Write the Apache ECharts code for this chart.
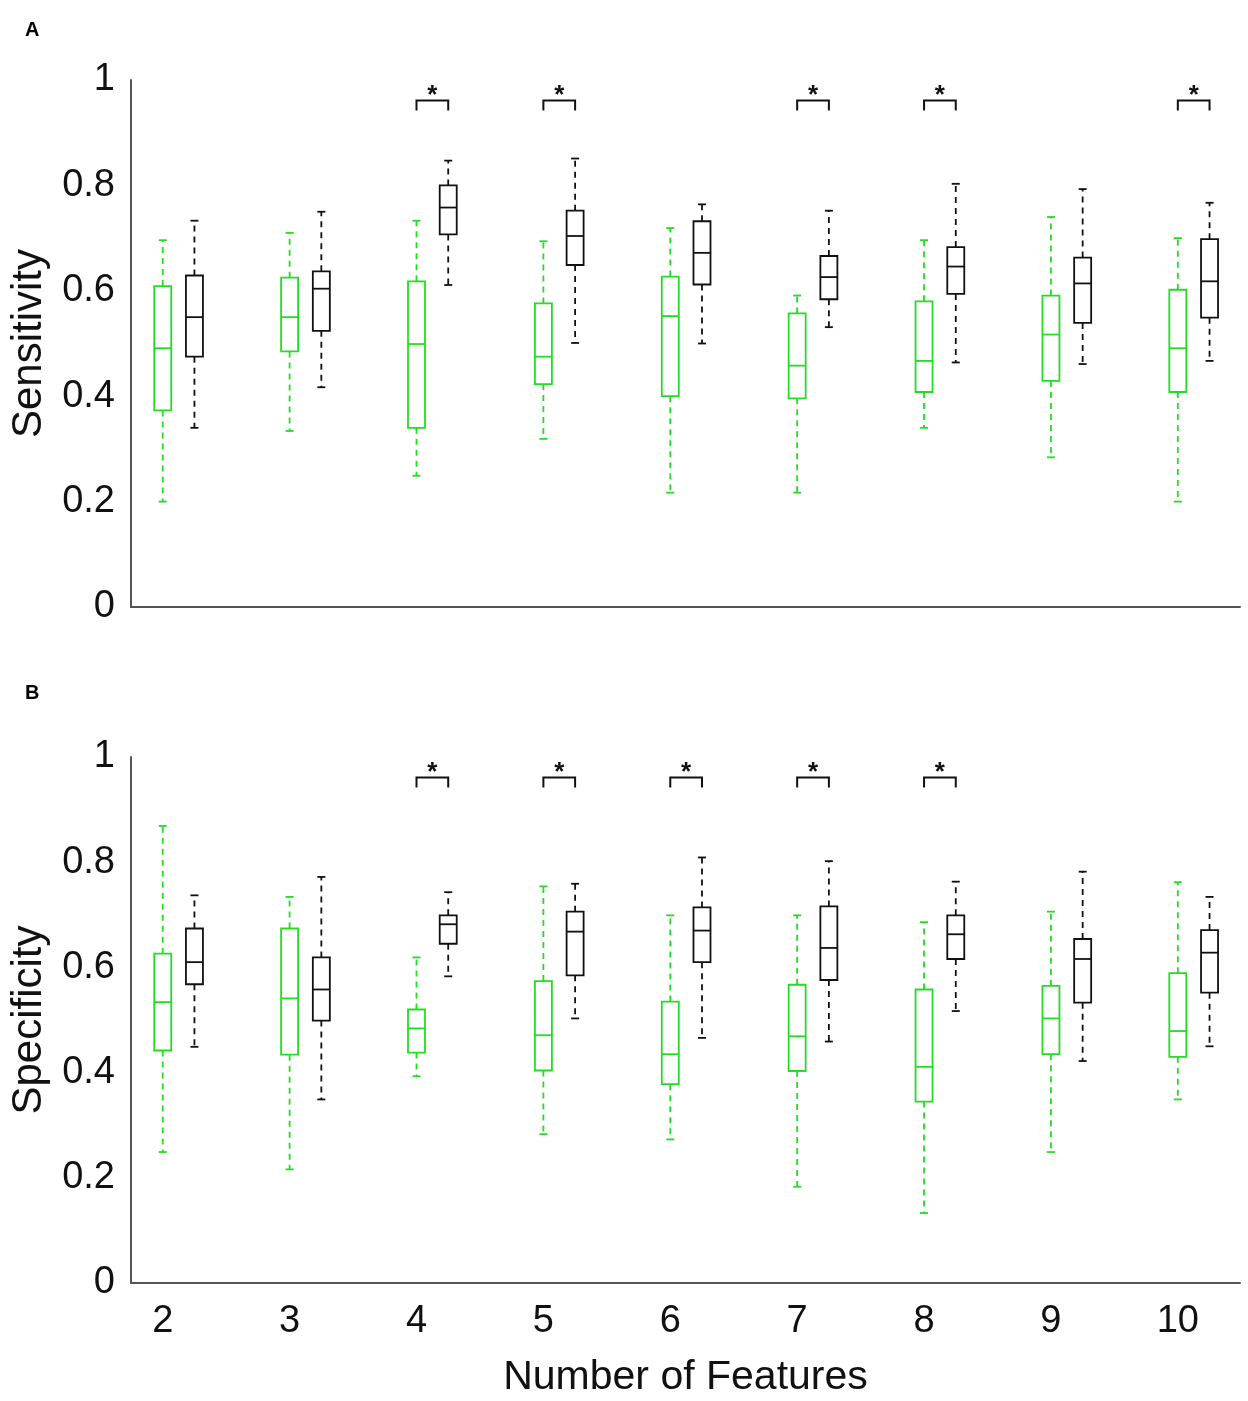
<!DOCTYPE html>
<html>
<head>
<meta charset="utf-8">
<title>Sensitivity / Specificity vs Number of Features</title>
<script src="https://cdn.jsdelivr.net/npm/echarts@6/dist/echarts.min.js"></script>
<style>
  html, body { margin: 0; padding: 0; background: #fff; }
  #chart { width: 1248px; height: 1401px; }
</style>
</head>
<body>
<div id="chart"></div>
<script>
// x positions (number of features)
var features = [2, 3, 4, 5, 6, 7, 8, 9, 10];
var yTicks = [0, 0.2, 0.4, 0.6, 0.8, 1];

// each row: [lower whisker, Q1, median, Q3, upper whisker]
var sensGreen = [
  [0.200, 0.373, 0.491, 0.609, 0.696],
  [0.334, 0.485, 0.550, 0.625, 0.710],
  [0.249, 0.340, 0.499, 0.618, 0.733],
  [0.319, 0.423, 0.475, 0.576, 0.694],
  [0.217, 0.400, 0.552, 0.627, 0.719],
  [0.217, 0.396, 0.458, 0.557, 0.591],
  [0.340, 0.408, 0.467, 0.580, 0.696],
  [0.284, 0.429, 0.517, 0.591, 0.740],
  [0.200, 0.408, 0.491, 0.602, 0.700]
];
var sensBlack = [
  [0.340, 0.475, 0.550, 0.629, 0.733],
  [0.417, 0.524, 0.604, 0.637, 0.750],
  [0.611, 0.707, 0.758, 0.800, 0.847],
  [0.501, 0.649, 0.704, 0.752, 0.851],
  [0.500, 0.612, 0.672, 0.732, 0.764],
  [0.531, 0.584, 0.626, 0.666, 0.752],
  [0.464, 0.594, 0.646, 0.683, 0.803],
  [0.461, 0.539, 0.614, 0.663, 0.793],
  [0.467, 0.549, 0.618, 0.698, 0.767]
];
var specGreen = [
  [0.249, 0.442, 0.534, 0.626, 0.869],
  [0.216, 0.434, 0.541, 0.674, 0.734],
  [0.393, 0.438, 0.484, 0.520, 0.619],
  [0.283, 0.404, 0.471, 0.574, 0.754],
  [0.273, 0.378, 0.435, 0.535, 0.699],
  [0.183, 0.403, 0.469, 0.567, 0.699],
  [0.133, 0.345, 0.411, 0.558, 0.686],
  [0.249, 0.435, 0.503, 0.565, 0.706],
  [0.349, 0.430, 0.479, 0.589, 0.762]
];
var specBlack = [
  [0.449, 0.568, 0.610, 0.674, 0.737],
  [0.349, 0.499, 0.558, 0.619, 0.772],
  [0.583, 0.645, 0.682, 0.699, 0.743],
  [0.503, 0.585, 0.668, 0.706, 0.759],
  [0.466, 0.610, 0.670, 0.714, 0.809],
  [0.459, 0.576, 0.637, 0.716, 0.802],
  [0.517, 0.616, 0.663, 0.699, 0.763],
  [0.422, 0.533, 0.616, 0.654, 0.782],
  [0.450, 0.552, 0.628, 0.671, 0.734]
];

// feature counts with a significant difference (*)
var sensSignificant = [4, 5, 7, 8, 10];
var specSignificant = [4, 5, 6, 7, 8];

var GREEN = '#22dd22';
var BLACK = '#111111';
var AXIS = '#555555';
var FONT = '"Liberation Sans", Arial, sans-serif';
var OFFSET = 0.25;   // black box sits to the right of the green one
var HALF_W = 8.5;    // box half width, px
var CAP_W = 4;       // whisker cap half width, px

function rows(list) {
  return list.map(function (r, i) { return [features[i]].concat(r); });
}

function boxItem(offset, color) {
  return function (params, api) {
    var x = api.value(0) + offset;
    var lo = api.coord([x, api.value(1)]);
    var q1 = api.coord([x, api.value(2)]);
    var md = api.coord([x, api.value(3)]);
    var q3 = api.coord([x, api.value(4)]);
    var hi = api.coord([x, api.value(5)]);
    var cx = lo[0];
    var solid = { stroke: color, lineWidth: 1.8, fill: null };
    var dash = { stroke: color, lineWidth: 1.8, lineDash: [6, 5] };
    return {
      type: 'group',
      children: [
        { type: 'line', shape: { x1: cx, y1: q3[1], x2: cx, y2: hi[1] }, style: dash },
        { type: 'line', shape: { x1: cx, y1: q1[1], x2: cx, y2: lo[1] }, style: dash },
        { type: 'line', shape: { x1: cx - CAP_W, y1: hi[1], x2: cx + CAP_W, y2: hi[1] }, style: solid },
        { type: 'line', shape: { x1: cx - CAP_W, y1: lo[1], x2: cx + CAP_W, y2: lo[1] }, style: solid },
        { type: 'rect', shape: { x: cx - HALF_W, y: q3[1], width: HALF_W * 2, height: q1[1] - q3[1] }, style: solid },
        { type: 'line', shape: { x1: cx - HALF_W, y1: md[1], x2: cx + HALF_W, y2: md[1] }, style: solid }
      ]
    };
  };
}

function bracketItem(params, api) {
  var x = api.value(0);
  var a = api.coord([x, 0.942]);
  var b = api.coord([x, 0.961]);
  var c = api.coord([x + OFFSET, 0.942]);
  var star = api.coord([x + OFFSET / 2, 0.981]);
  var st = { stroke: BLACK, lineWidth: 2, fill: null };
  return {
    type: 'group',
    children: [
      { type: 'polyline', shape: { points: [[a[0], a[1]], [a[0], b[1]], [c[0], b[1]], [c[0], a[1]]] }, style: st },
      { type: 'text', x: star[0], y: star[1] + 6,
        style: { text: '*', fill: BLACK, font: 'bold 26px ' + FONT, align: 'center', verticalAlign: 'middle' } }
    ]
  };
}

function xAxis(gridIndex, showLabels) {
  return {
    type: 'value', gridIndex: gridIndex, min: 1.75, max: 10.49,
    splitLine: { show: false },
    axisTick: { show: false },
    axisLine: { show: true, onZero: false, lineStyle: { color: AXIS, width: 2 } },
    axisLabel: {
      show: showLabels, customValues: features, margin: 20,
      color: '#111', fontSize: 38, fontFamily: FONT
    },
    name: showLabels ? 'Number of Features' : '',
    nameLocation: 'middle', nameGap: 74,
    nameTextStyle: { color: '#111', fontSize: 41, fontFamily: FONT }
  };
}

function yAxis(gridIndex, title) {
  return {
    type: 'value', gridIndex: gridIndex, min: 0, max: 1, interval: 0.2,
    splitLine: { show: false },
    axisTick: { show: false },
    axisLine: { show: true, lineStyle: { color: AXIS, width: 2 } },
    axisLabel: {
      margin: 16, color: '#111', fontSize: 38, fontFamily: FONT,
      customValues: yTicks,
      formatter: function (v) { return (v === 0 || v === 1) ? String(v) : v.toFixed(1); }
    },
    name: title, nameLocation: 'middle', nameGap: 81, nameRotate: 90,
    nameTextStyle: { color: '#111', fontSize: 42, fontFamily: FONT }
  };
}

function boxSeries(name, data, axisIndex, offset, color) {
  return {
    type: 'custom', name: name, xAxisIndex: axisIndex, yAxisIndex: axisIndex,
    renderItem: boxItem(offset, color),
    encode: { x: 0, y: [1, 2, 3, 4, 5] },
    data: rows(data), silent: true, clip: false
  };
}

function bracketSeries(list, axisIndex) {
  return {
    type: 'custom', xAxisIndex: axisIndex, yAxisIndex: axisIndex,
    renderItem: bracketItem,
    encode: { x: 0, y: 1 },
    data: list.map(function (f) { return [f, 0.96]; }),
    silent: true, clip: false
  };
}

var chart = echarts.init(document.getElementById('chart'), null, { renderer: 'canvas' });
chart.setOption({
  backgroundColor: '#fff',
  animation: false,
  grid: [
    { left: 131, right: 8, top: 80, height: 527, outerBoundsMode: 'none', containLabel: false },
    { left: 131, right: 8, top: 757, height: 526, outerBoundsMode: 'none', containLabel: false }
  ],
  xAxis: [xAxis(0, false), xAxis(1, true)],
  yAxis: [yAxis(0, 'Sensitivity'), yAxis(1, 'Specificity')],
  graphic: [
    { type: 'text', left: 25, top: 20, style: { text: 'A', fill: '#000', font: 'bold 20px ' + FONT } },
    { type: 'text', left: 25, top: 683, style: { text: 'B', fill: '#000', font: 'bold 20px ' + FONT } }
  ],
  series: [
    boxSeries('Sensitivity (green)', sensGreen, 0, 0, GREEN),
    boxSeries('Sensitivity (black)', sensBlack, 0, OFFSET, BLACK),
    bracketSeries(sensSignificant, 0),
    boxSeries('Specificity (green)', specGreen, 1, 0, GREEN),
    boxSeries('Specificity (black)', specBlack, 1, OFFSET, BLACK),
    bracketSeries(specSignificant, 1)
  ]
});
</script>
</body>
</html>
